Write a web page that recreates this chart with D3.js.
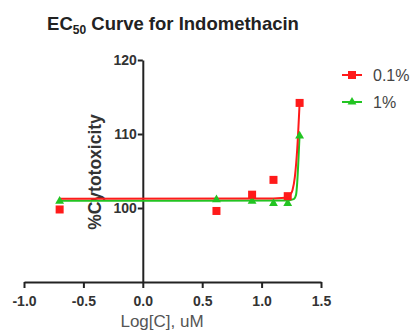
<!DOCTYPE html>
<html>
<head>
<meta charset="utf-8">
<script src="https://cdn.jsdelivr.net/npm/d3@7"></script>
<style>
  body { margin: 0; background: #fff; }
  text { font-family: "Liberation Sans", Arial, sans-serif; }
</style>
</head>
<body>
<div id="chart"></div>
<script>
//series data: log concentration vs % cytotoxicity
var seriesNames = ["0.1%", "1%"];
var logC = [-0.7, 0.62, 0.92, 1.1, 1.22, 1.32];
var tox01 = [99.8, 99.6, 101.8, 103.8, 101.6, 114.2];
var tox1 = [101.0, 101.2, 101.0, 100.7, 100.7, 109.8];

//fitted curves, points
var fit01X = [-0.7, 1.0, 1.2, 1.24, 1.26, 1.28, 1.30, 1.32];
var fit01Y = [101.26, 101.27, 101.4, 101.8, 102.4, 104.2, 108.0, 114.2];
var fit1X = [-0.7, 1.2, 1.27, 1.29, 1.30, 1.31, 1.32];
var fit1Y = [100.99, 101.0, 101.2, 101.8, 103.5, 106.5, 110.0];

var xTicks = [-1.0, -0.5, 0.0, 0.5, 1.0, 1.5];
var yTicks = [100, 110, 120];

var svgWidth = 412;
var svgHeight = 332;

var svg = d3.select("#chart")
  .append("svg")
  .attr("width", svgWidth)
  .attr("height", svgHeight);

//scales
var x = d3.scaleLinear().domain([-1, 1.5]).range([24, 321]);
var y = d3.scaleLinear().domain([90, 120]).range([282, 60]);

var red = "#ff1a1a";
var green = "#22c422";
var axisColor = "#222";

//title
var title = svg.append("text")
  .attr("x", 173)
  .attr("y", 30)
  .attr("text-anchor", "middle")
  .attr("font-size", 18.5)
  .attr("font-weight", "bold")
  .attr("fill", "#222");
title.append("tspan").text("EC");
title.append("tspan").attr("font-size", 12).attr("dy", 4).text("50");
title.append("tspan").attr("dy", -4).text(" Curve for Indomethacin");

//x axis at y=90
var xAxis = svg.append("g")
  .attr("transform", `translate(0, ${y(90)})`)
  .call(d3.axisBottom(x).tickValues(xTicks).tickFormat(d3.format(".1f")).tickSize(6).tickSizeOuter(0));

//y axis crossing at x=0
var yAxis = svg.append("g")
  .attr("transform", `translate(${x(0)}, 0)`)
  .call(d3.axisLeft(y).tickValues(yTicks).tickSize(5).tickSizeOuter(0));

[xAxis, yAxis].forEach(function(g) {
  g.select(".domain").attr("stroke", axisColor).attr("stroke-width", 2);
  g.selectAll(".tick line").attr("stroke", axisColor).attr("stroke-width", 2);
  g.selectAll(".tick text")
    .attr("font-family", "Liberation Sans, Arial, sans-serif")
    .attr("font-size", 14)
    .attr("font-weight", "bold")
    .attr("fill", "#333");
});
xAxis.selectAll(".tick text").attr("dy", "1.1em").text(d => d3.format(".1f")(d).replace("−", "-"));
yAxis.selectAll(".tick text").attr("x", -6);

//axis labels
svg.append("text")
  .attr("x", 162)
  .attr("y", 327)
  .attr("text-anchor", "middle")
  .attr("font-size", 17)
  .attr("fill", "#555")
  .text("Log[C], uM");

svg.append("text")
  .attr("transform", "translate(101, 172) rotate(-90)")
  .attr("text-anchor", "middle")
  .attr("font-size", 17.5)
  .attr("font-weight", "bold")
  .attr("fill", "#333")
  .text("%Cytotoxicity");

//fitted curves
var line = d3.line()
  .x(d => x(d[0]))
  .y(d => y(d[1]))
  .curve(d3.curveMonotoneX);

svg.append("path")
  .datum(d3.zip(fit1X, fit1Y))
  .attr("d", line)
  .attr("fill", "none")
  .attr("stroke", green)
  .attr("stroke-width", 2);

svg.append("path")
  .datum(d3.zip(fit01X, fit01Y))
  .attr("d", line)
  .attr("fill", "none")
  .attr("stroke", red)
  .attr("stroke-width", 2);

//points
var tri = d3.symbol().type(d3.symbolTriangle).size(34);

svg.selectAll("path.tri")
  .data(d3.zip(logC, tox1))
  .enter()
  .append("path")
  .classed("tri", true)
  .attr("d", tri)
  .attr("transform", d => `translate(${x(d[0])}, ${y(d[1]) + 0.5})`)
  .attr("fill", green);

svg.selectAll("rect.sq")
  .data(d3.zip(logC, tox01))
  .enter()
  .append("rect")
  .classed("sq", true)
  .attr("x", d => x(d[0]) - 4)
  .attr("y", d => y(d[1]) - 4)
  .attr("width", 8)
  .attr("height", 8)
  .attr("fill", red);

//legend
var legend = svg.append("g");
var legendY = [75, 102];
var legendColor = [red, green];

seriesNames.forEach(function(name, i) {
  legend.append("line")
    .attr("x1", 342).attr("x2", 362)
    .attr("y1", legendY[i]).attr("y2", legendY[i])
    .attr("stroke", legendColor[i])
    .attr("stroke-width", 2);
  if (i === 0) {
    legend.append("rect")
      .attr("x", 348).attr("y", legendY[i] - 4)
      .attr("width", 8).attr("height", 8)
      .attr("fill", red);
  } else {
    legend.append("path")
      .attr("d", tri)
      .attr("transform", `translate(352, ${legendY[i]})`)
      .attr("fill", green);
  }
  legend.append("text")
    .attr("x", 373)
    .attr("y", legendY[i] + 5.5)
    .attr("font-size", 16)
    .attr("fill", "#444")
    .text(name);
});
</script>
</body>
</html>
